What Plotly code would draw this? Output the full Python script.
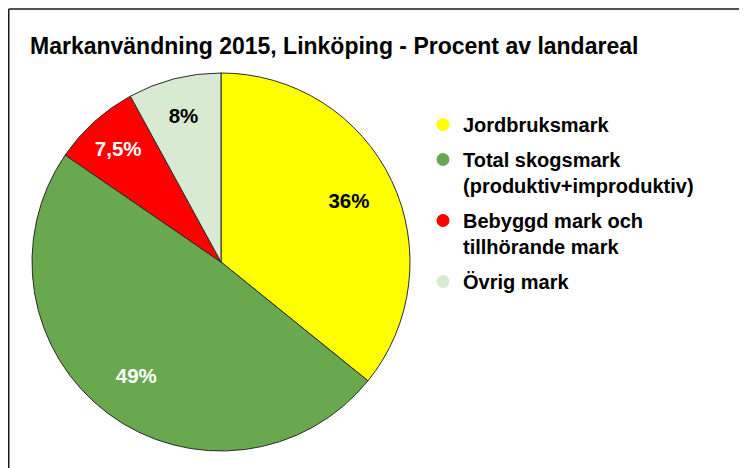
import plotly.graph_objects as go

W, H = 747, 468

title_text = "Markanvändning 2015, Linköping - Procent av landareal"
categories = ["Jordbruksmark", "Total skogsmark<br>(produktiv+improduktiv)",
              "Bebyggd mark och<br>tillhörande mark", "Övrig mark"]
values = [36, 49, 7.5, 8]
value_labels = ["36%", "49%", "7,5%", "8%"]
colors = ["#FFFF00", "#6AA84F", "#FF0000", "#D9EAD3"]
text_colors = ["#000000", "#FFFFFF", "#FFFFFF", "#000000"]

FONT = "Liberation Sans, Arial, sans-serif"
OFF = 8  # page body margin in the browser


def px_x(x):
    return (x - OFF) / W


def px_y(y):
    return 1 - (y - OFF) / H


pie_domain = dict(x=[px_x(32), px_x(410)], y=[px_y(451), px_y(73)])

fig = go.Figure()
# Filled pie (slices)
fig.add_trace(go.Pie(
    labels=categories,
    values=values,
    textinfo="none",
    sort=False,
    direction="clockwise",
    rotation=0,
    marker=dict(colors=colors, line=dict(color="#2b2b2b", width=1)),
    showlegend=False,
    hoverinfo="label+percent",
    domain=pie_domain,
))
# Transparent ring carrying the value labels (places them toward the rim)
fig.add_trace(go.Pie(
    labels=categories,
    values=values,
    text=value_labels,
    textinfo="text",
    textposition="inside",
    insidetextorientation="horizontal",
    hole=0.5,
    sort=False,
    direction="clockwise",
    rotation=0,
    marker=dict(colors=["rgba(0,0,0,0)"] * len(values),
                line=dict(color="rgba(0,0,0,0)", width=0)),
    textfont=dict(family=FONT, size=20.5, color=text_colors, weight="bold"),
    showlegend=False,
    hoverinfo="skip",
    domain=pie_domain,
))

for name, col in zip(categories, colors):
    fig.add_trace(go.Scatter(
        x=[None], y=[None], mode="markers", name=name,
        marker=dict(symbol="circle", size=13, color=col),
        legendgroup=name, showlegend=True,
    ))

fig.update_layout(
    width=W, height=H,
    margin=dict(l=0, r=0, t=0, b=0),
    paper_bgcolor="white", plot_bgcolor="white",
    xaxis=dict(visible=False), yaxis=dict(visible=False),
    title=dict(text="<b>" + title_text + "</b>", x=px_x(30), xanchor="left",
               xref="paper", y=px_y(46), yanchor="middle", yref="paper",
               font=dict(family=FONT, size=23, color="#000000")),
    legend=dict(x=px_x(423), xanchor="left", y=px_y(105), yanchor="top",
                font=dict(family=FONT, size=20, color="#000000", weight="bold"),
                valign="top", tracegroupgap=6, bgcolor="rgba(0,0,0,0)",
                itemclick=False, itemdoubleclick=False),
    shapes=[
        dict(type="line", xref="paper", yref="paper", x0=0.75 / W, x1=1.0,
             y0=1 - 1 / H, y1=1 - 1 / H, line=dict(color="#1a1a1a", width=1.5)),
        dict(type="line", xref="paper", yref="paper", x0=0.75 / W, x1=0.75 / W,
             y0=1 - 1 / H, y1=0, line=dict(color="#1a1a1a", width=1.5)),
    ],
)

fig.write_html("out.html")
